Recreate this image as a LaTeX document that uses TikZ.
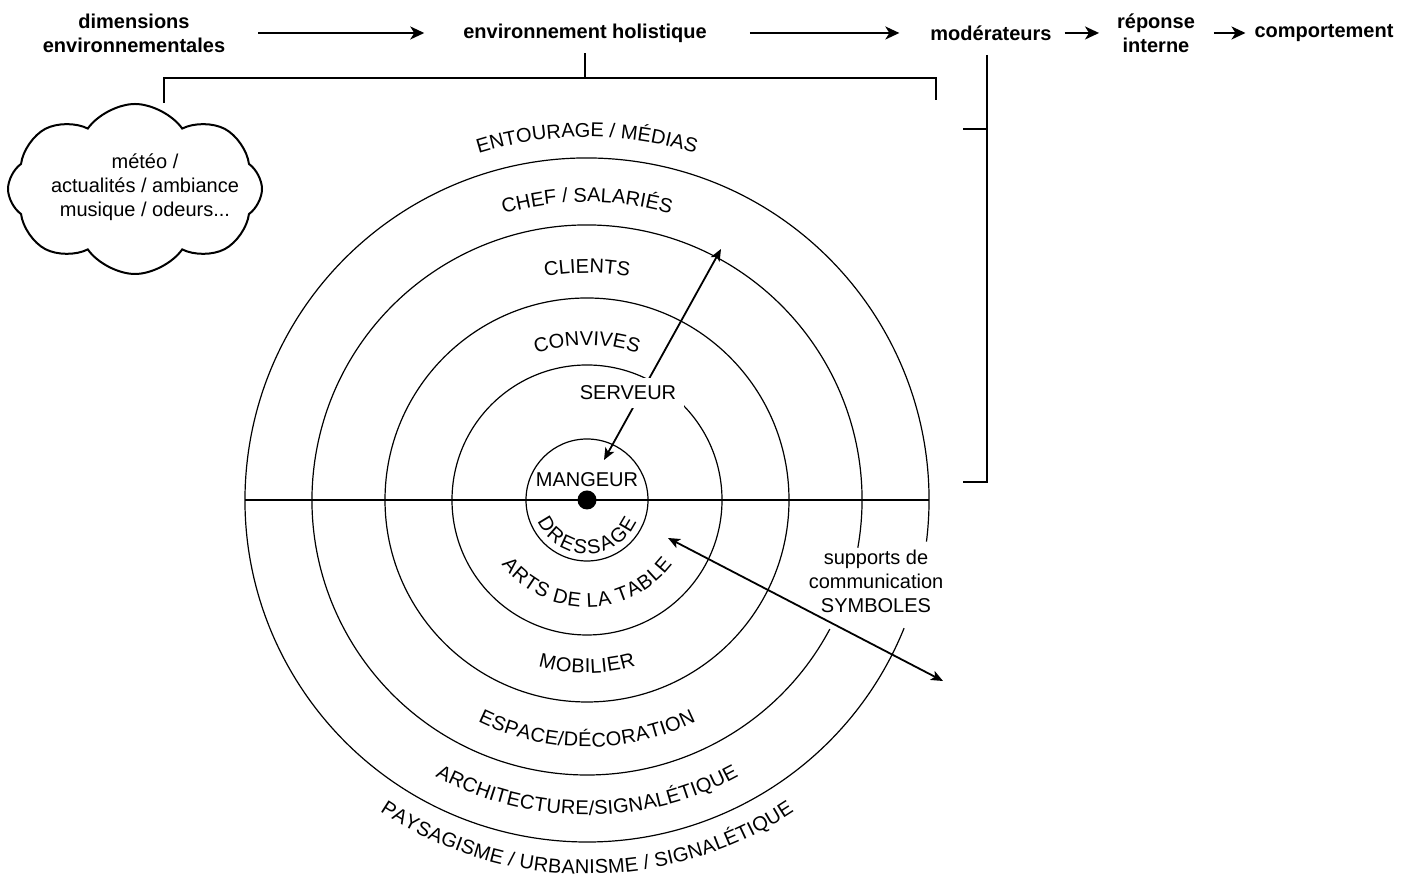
\documentclass[tikz,border=0pt]{standalone}
\usepackage{fontspec}
\setmainfont{Liberation Sans}
\usetikzlibrary{arrows.meta,decorations.text,shapes.symbols}

\newcommand{\ringfont}{\fontsize{10}{12}\selectfont}

\tikzset{
	txt/.style={font=\fontsize{10}{12}\selectfont, align=center},
	head/.style={font=\fontsize{10}{12}\selectfont\bfseries, align=center},
	flow/.style={line width=1pt, -{Stealth[length=7pt,width=6.5pt,inset=2pt]}},
	brk/.style={line width=1pt},
	ring/.style={line width=0.6pt},
	ringarrow/.style={line width=0.9pt, {Stealth[length=6pt,width=5pt,inset=1.5pt]}-{Stealth[length=6pt,width=5pt,inset=1.5pt]}},
}

\begin{document}
\begin{tikzpicture}[x=0.5pt,y=0.5pt]
		\useasboundingbox (0,0) rectangle (1417,881);
	
		\node[head] (dim) at (134,848) {dimensions\\environnementales};
		\node[head] (env) at (585,848) {environnement holistique};
		\node[head] (mod) at (991,848) {modérateurs};
		\node[head] (rep) at (1156,848) {réponse\\interne};
		\node[head] (comp) at (1324,848) {comportement};
		
		\draw[flow, shorten <=13pt, shorten >=16pt] (dim) -- (env);
		\draw[flow, shorten <=18pt, shorten >=12pt] (env) -- (mod);
		\draw[flow, shorten <=3pt, shorten >=5.5pt] (mod) -- (rep);
		\draw[flow, shorten <=6pt, shorten >=1pt] (rep) -- (comp);
		
		\node[cloud, draw, line width=1pt, cloud puffs=8, cloud puff arc=110, cloud ignores aspect,
			minimum width=127pt, minimum height=85pt, inner sep=0pt] (cloud) at (135,692) {};
		\node[txt] (meteo) at (145,694) {météo /\\actualités / ambiance\\musique / odeurs...};
		
		\coordinate (hl) at (164,803);
		\coordinate (hr) at (936,803);
		\draw[brk] ([yshift=-2pt]env.south) -- (env.south |- hl);
		\draw[brk] (hl |- cloud.north) -- (hl) -- (hr) -- ++(0,-22);
		
		\coordinate (mtop) at (987,826);
		\coordinate (mt) at (987,752);
		\coordinate (mb) at (987,399);
		\draw[brk] (mtop) -- (mb) -- ++(-24,0);
		\draw[brk] (mt) -- ++(-24,0);
		
		\coordinate (C) at (587,381);
		\foreach \r in {61,135,202}
			\draw[ring] (C) circle[radius=\r];
		\draw[ring] (C) ++(-10:275) arc[start angle=-10, end angle=332, radius=275];
		\draw[ring] (C) ++(-7:342) arc[start angle=-7, end angle=338, radius=342];
		\draw[line width=0.9pt] (C) ++(-342,0) -- ++(684,0);
		\fill (C) circle[radius=9.5];
		
		% upper rings: baseline on the path
		\path[decorate, decoration={text along path, text align=center, text={|\ringfont|ENTOURAGE / MÉDIAS}}]
			(C) ++(180:363) arc[start angle=180, end angle=0, radius=363];
		\path[decorate, decoration={text along path, text align=center, text={|\ringfont|CHEF / SALARIÉS}}]
			(C) ++(180:298) arc[start angle=180, end angle=0, radius=298];
		\path[decorate, decoration={text along path, text align=center, text={|\ringfont|CLIENTS}}]
			(C) ++(180:227) arc[start angle=180, end angle=0, radius=227];
		\path[decorate, decoration={text along path, text align=center, text={|\ringfont|CONVIVES}}]
			(C) ++(180:155) arc[start angle=180, end angle=0, radius=155];
		
		% lower rings: path through the middle of the letters
		\path[decorate, decoration={text along path, text align=center, raise=-3.5pt, text={|\ringfont|DRESSAGE}}]
			(C) ++(180:47) arc[start angle=180, end angle=360, radius=47];
		\path[decorate, decoration={text along path, text align=center, raise=-3.5pt, text={|\ringfont|ARTS DE LA TABLE}}]
			(C) ++(180:100) arc[start angle=180, end angle=360, radius=100];
		\path[decorate, decoration={text along path, text align=center, raise=-3.5pt, text={|\ringfont|MOBILIER}}]
			(C) ++(180:166) arc[start angle=180, end angle=360, radius=166];
		\path[decorate, decoration={text along path, text align=center, raise=-3.5pt, text={|\ringfont|ESPACE/DÉCORATION}}]
			(C) ++(180:240) arc[start angle=180, end angle=360, radius=240];
		\path[decorate, decoration={text along path, text align=center, raise=-3.5pt, text={|\ringfont|ARCHITECTURE/SIGNALÉTIQUE}}]
			(C) ++(180:308) arc[start angle=180, end angle=360, radius=308];
		\path[decorate, decoration={text along path, text align=center, raise=-3.5pt, text={|\ringfont|PAYSAGISME / URBANISME / SIGNALÉTIQUE}}]
			(C) ++(180:367) arc[start angle=180, end angle=360, radius=367];
		
		\node[txt] (mangeur) at (587,401) {MANGEUR};
		
		\coordinate (mtip) at (604,421);
		\coordinate (ctip) at (721,632);
		\draw[ringarrow] (mtip) -- (ctip);
		\node[txt, fill=white, inner sep=4pt] (serveur) at (628,488) {SERVEUR};
		
		\coordinate (dtip) at (668,343);
		\coordinate (otip) at (943,200);
		\draw[ringarrow] (dtip) -- (otip);
		\node[txt] (supports) at (876,300) {supports de\\communication\\SYMBOLES};
	\end{tikzpicture}
\end{document}
